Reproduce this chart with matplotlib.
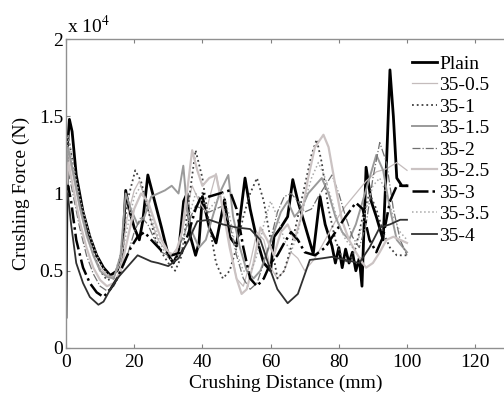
import matplotlib
matplotlib.use("Agg")
import matplotlib.pyplot as plt

plt.rcParams['font.family'] = ['Liberation Serif', 'DejaVu Serif']
plt.rcParams['mathtext.fontset'] = 'stix'

# crushing distance (mm) / crushing force (x 10^4 N)
plain_x = [0, 0.4, 1, 1.8, 3, 5, 7, 9, 11, 13, 15, 16.5, 17.5, 18.5, 20, 21.5, 22.5, 24, 26, 28, 30, 31.5,
           33, 34.5, 35.5, 36.5, 38, 39, 40, 42, 44, 46.5, 48, 50, 52.5, 54, 56, 58, 60, 61, 63, 65, 66.5,
           68, 70, 72.5, 74.5, 76, 78, 79, 80, 81, 82, 83, 84, 85, 86, 86.8, 88, 89.5, 91, 93, 94, 95, 96,
           97, 98.5, 100]
plain_y = [0.2, 1.3, 1.48, 1.4, 1.12, 0.88, 0.72, 0.6, 0.52, 0.47, 0.5, 0.6, 1.02, 0.9, 0.78, 0.7, 0.82,
           1.12, 0.95, 0.78, 0.6, 0.55, 0.62, 0.95, 1.0, 0.72, 0.6, 0.68, 0.98, 0.78, 0.68, 0.96, 0.72, 0.66,
           1.1, 0.9, 0.7, 0.55, 0.5, 0.72, 0.78, 0.85, 1.09, 0.95, 0.8, 0.61, 0.98, 0.8, 0.66, 0.55, 0.65,
           0.52, 0.64, 0.55, 0.62, 0.5, 0.58, 0.4, 1.17, 0.95, 0.85, 0.7, 1.2, 1.8, 1.5, 1.1, 1.05, 1.05]

s05_x = [0, 0.7, 2, 4, 6, 8, 10, 12, 14, 16, 18, 20, 21.5, 23, 25, 27, 29, 31, 33, 35, 37, 39, 41, 44, 47,
         50, 52, 54, 56, 58, 60, 62, 64, 66, 68, 70, 73, 76, 79, 82, 85, 88, 91, 94, 97, 100]
s05_y = [1.05, 1.25, 1.12, 0.9, 0.72, 0.6, 0.52, 0.47, 0.46, 0.55, 0.85, 1.02, 1.08, 0.98, 0.82, 0.7, 0.64,
         0.6, 0.66, 0.85, 1.05, 0.95, 0.88, 1.13, 0.8, 0.45, 0.4, 0.55, 0.75, 0.7, 0.52, 0.45, 0.5, 0.62,
         0.58, 0.5, 0.58, 0.7, 0.82, 0.92, 1.0, 1.08, 1.14, 1.16, 1.2, 1.15]

s1_x = [0, 0.8, 2, 4, 6, 8, 10, 12, 14, 16, 18, 20.3, 22, 24, 26, 28, 30, 32, 34, 36, 38, 40, 42, 44, 46,
        48, 50, 52, 54, 56, 58, 60, 62, 64, 66, 68, 70, 72, 73.5, 75, 77, 79, 81, 83, 85, 87, 89, 91, 93,
        95, 97, 100]
s1_y = [1.1, 1.35, 1.2, 0.95, 0.78, 0.62, 0.5, 0.44, 0.45, 0.6, 0.95, 1.15, 1.08, 0.9, 0.72, 0.62, 0.55,
        0.5, 0.6, 0.95, 1.28, 1.1, 0.8, 0.55, 0.45, 0.5, 0.65, 0.85, 1.0, 1.1, 0.95, 0.7, 0.45, 0.5, 0.65,
        0.85, 1.05, 1.25, 1.35, 1.2, 0.9, 0.7, 0.58, 0.55, 0.65, 0.85, 1.0, 0.9, 0.75, 0.65, 0.6, 0.6]

s15_x = [0, 0.6, 2, 4, 6, 8, 10, 12, 14, 16, 17.5, 19, 21, 23, 25, 27, 29, 31, 33, 34.4, 35.5, 37, 39, 41,
         43, 45, 47.6, 49, 51, 53, 55, 57, 59, 61, 63, 65, 67, 69, 71, 73, 75, 77, 79, 81, 83, 85, 87, 89,
         91, 93, 95, 97, 100]
s15_y = [1.1, 1.3, 1.15, 0.92, 0.74, 0.6, 0.5, 0.46, 0.45, 0.6, 1.0, 0.9, 0.8, 0.85, 0.98, 1.0, 1.02, 1.05,
         1.0, 1.18, 0.9, 0.75, 0.65, 0.7, 0.85, 1.0, 1.12, 0.85, 0.65, 0.5, 0.45, 0.5, 0.62, 0.75, 0.88,
         0.95, 0.85, 0.9, 1.0, 1.05, 1.1, 1.0, 0.85, 0.75, 0.7, 0.8, 0.95, 1.1, 1.25, 1.15, 0.9, 0.7, 0.62]

s2_x = [0, 0.6, 2, 4, 6, 8, 10, 12, 14, 16, 18, 20, 22, 24, 26, 28, 30, 32, 34, 36, 38, 40, 42, 44, 46, 48,
        50, 52, 54, 56, 58, 60, 62, 64, 66, 68, 70, 72, 74, 76, 78, 80, 82, 84, 86, 88, 90, 92, 94, 96, 98,
        100]
s2_y = [0.9, 1.15, 1.0, 0.78, 0.6, 0.48, 0.4, 0.37, 0.4, 0.48, 0.6, 0.75, 0.85, 0.8, 0.7, 0.62, 0.6, 0.6,
        0.7, 0.82, 0.92, 0.9, 0.88, 0.9, 0.92, 0.8, 0.6, 0.45, 0.38, 0.42, 0.55, 0.7, 0.88, 0.98, 1.0, 0.95,
        0.88, 0.9, 0.98, 1.05, 1.12, 1.0, 0.85, 0.72, 0.65, 0.8, 1.1, 1.33, 1.2, 0.9, 0.7, 0.6]

s25_x = [0, 0.7, 2, 4, 6, 8, 10, 12, 14, 16, 18, 20, 22, 24, 26, 28, 30, 32, 34, 36, 37, 38.5, 40, 42, 44,
         46, 48, 50, 51.5, 53, 55, 57, 59, 61, 63, 65, 67, 69, 71, 73, 75.5, 77, 79, 81, 83, 85, 87, 88, 90,
         92, 94, 96, 98, 100]
s25_y = [1.0, 1.2, 1.05, 0.82, 0.65, 0.52, 0.44, 0.4, 0.42, 0.5, 0.7, 0.9, 1.0, 0.95, 0.82, 0.7, 0.62, 0.6,
         0.75, 1.1, 1.28, 1.15, 1.05, 1.1, 1.12, 0.9, 0.65, 0.45, 0.35, 0.38, 0.55, 0.78, 0.7, 0.6, 0.75,
         0.8, 0.7, 0.85, 1.1, 1.3, 1.38, 1.3, 1.05, 0.82, 0.7, 0.62, 0.55, 0.52, 0.55, 0.62, 0.7, 0.72,
         0.7, 0.68]

s3_x = [0, 0.6, 1.5, 3, 5, 7, 9, 11, 13, 15, 17, 19, 21, 23, 25, 28, 31, 34, 36, 38, 40, 42, 45, 48, 50,
        52, 54, 56, 58, 60, 62, 64, 66, 68, 70, 73, 76, 79, 82, 85, 87, 89, 91, 93, 95, 97, 100]
s3_y = [0.85, 1.05, 0.95, 0.7, 0.52, 0.42, 0.36, 0.33, 0.38, 0.45, 0.55, 0.65, 0.72, 0.75, 0.7, 0.63, 0.6,
        0.62, 0.75, 0.9, 1.0, 0.98, 1.0, 1.02, 0.9, 0.65, 0.45, 0.4, 0.45, 0.55, 0.6, 0.68, 0.75, 0.7,
        0.62, 0.6, 0.65, 0.75, 0.85, 0.94, 0.9, 0.7, 0.62, 0.72, 0.95, 1.05, 1.05]

s35_x = [0, 0.6, 2, 4, 6, 8, 10, 12, 14, 16, 18, 20, 22, 24, 26, 28, 30, 32, 34, 36, 38, 40, 42, 44, 46, 48,
         50, 52, 54, 56, 58, 60, 62, 64, 66, 68, 70, 72, 74, 76, 78, 80, 82, 84, 86, 88, 90, 92, 94, 96,
         98, 100]
s35_y = [1.2, 1.38, 1.2, 0.98, 0.8, 0.66, 0.55, 0.48, 0.46, 0.55, 0.78, 0.98, 1.05, 0.92, 0.78, 0.66, 0.58,
         0.56, 0.65, 0.85, 1.0, 0.95, 0.9, 0.95, 1.0, 0.85, 0.62, 0.5, 0.48, 0.6, 0.8, 0.95, 0.85, 0.7,
         0.62, 0.75, 0.95, 1.1, 1.2, 1.1, 0.95, 0.8, 0.7, 0.65, 0.72, 0.9, 1.05, 1.1, 1.0, 0.85, 0.75, 0.7]

s4_x = [0, 0.5, 1.5, 3, 5, 7, 9.5, 11, 13, 15, 17, 19, 21, 23, 25, 27, 30, 33, 36, 38.5, 42, 46, 50, 54, 57,
        60, 62, 65, 68, 71.5, 75, 78, 82, 86, 89, 92, 95, 98, 100]
s4_y = [0.95, 1.0, 0.8, 0.55, 0.42, 0.33, 0.28, 0.3, 0.38, 0.45, 0.5, 0.55, 0.6, 0.58, 0.56, 0.55, 0.53,
        0.58, 0.7, 0.82, 0.83, 0.8, 0.78, 0.77, 0.7, 0.5, 0.38, 0.29, 0.35, 0.57, 0.58, 0.59, 0.57, 0.55,
        0.65, 0.78, 0.8, 0.83, 0.83]

labels = ['Plain', '35-0.5', '35-1', '35-1.5', '35-2', '35-2.5', '35-3', '35-3.5', '35-4']
xs = [plain_x, s05_x, s1_x, s15_x, s2_x, s25_x, s3_x, s35_x, s4_x]
ys = [plain_y, s05_y, s1_y, s15_y, s2_y, s25_y, s3_y, s35_y, s4_y]

styles = [
    dict(color='black', lw=2.0, ls='-'),
    dict(color='#c4bcbc', lw=0.9, ls='-'),
    dict(color='#404040', lw=1.3, ls=':'),
    dict(color='#9a9a9a', lw=1.4, ls='-'),
    dict(color='#707070', lw=0.9, ls='-.'),
    dict(color='#cbc3c3', lw=1.6, ls='-'),
    dict(color='black', lw=1.8, ls='-.'),
    dict(color='#a8a8a8', lw=1.1, ls=':'),
    dict(color='#303030', lw=1.3, ls='-'),
]

fig = plt.figure(figsize=(5.04, 3.94), dpi=100)
ax = fig.add_axes([66 / 504, 46 / 394, 140 * 3.41 / 504, 309 / 394])

for x, y, lab, st in zip(xs, ys, labels, styles):
    ax.plot(x, y, label=lab, **st)

ax.set_xlim(0, 140)
ax.set_ylim(0, 2)
ax.set_xticks([0, 20, 40, 60, 80, 100, 120])
ax.set_yticks([0, 0.5, 1, 1.5, 2])
ax.set_yticklabels(['0', '0.5', '1', '1.5', '2'])
ax.tick_params(direction='in', top=True, right=True, length=3, width=0.8, color='#808080',
               labelsize=14)
ax.tick_params(axis='x', pad=4)
ax.tick_params(axis='y', pad=2)
for sp in ax.spines.values():
    sp.set_color('#909090')
    sp.set_linewidth(1.0)

ax.set_xlabel('Crushing Distance (mm)', fontsize=14)
ax.xaxis.set_label_coords(220 / 477, -0.085)
ax.set_ylabel('Crushing Force (N)', fontsize=14)
ax.yaxis.set_label_coords(-0.075, 0.5)
ax.text(0.003, 1.005, r'x 10$^4$', transform=ax.transAxes, fontsize=14, ha='left', va='bottom')

ax.legend(loc='upper left', bbox_to_anchor=(412 / 504, 339 / 394), bbox_transform=fig.transFigure,
          frameon=False, fontsize=14, handlelength=1.3, handletextpad=0.1, labelspacing=0.2,
          borderpad=0, borderaxespad=0)

fig.savefig('out.png', dpi=100)
